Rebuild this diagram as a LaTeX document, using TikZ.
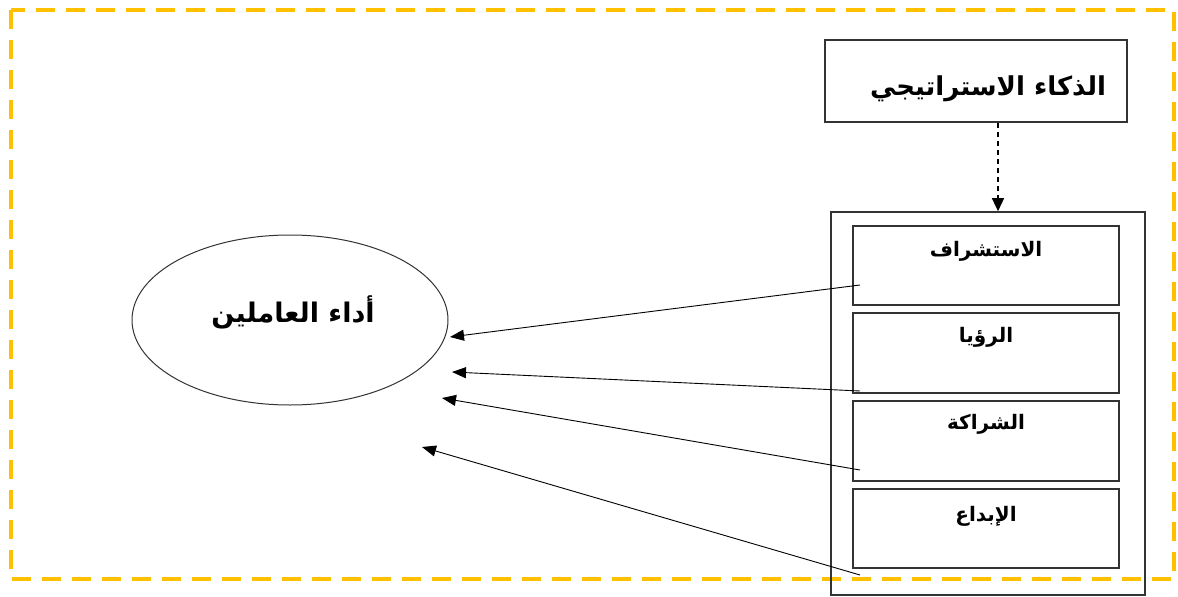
\documentclass[tikz,border=0pt]{standalone}
\usepackage{fontspec}
\newfontfamily\arabicfont[Script=Arabic]{DejaVu Sans}
\TeXXeTstate=1
\usetikzlibrary{arrows.meta,shapes.geometric}
\definecolor{gold}{HTML}{FFC000}
\definecolor{edge}{HTML}{333333}
\tikzset{
  frame/.style={draw=gold, line width=4.5pt, dash pattern=on 19pt off 11pt},
  boxnode/.style={draw=edge, line width=1.6pt, rectangle, inner sep=0pt},
  label/.style={font=\arabicfont\bfseries, inner sep=0pt},
  dasharrow/.style={draw=black, line width=1.3pt, dash pattern=on 5pt off 4pt, -{Triangle[length=13pt,width=12pt]}},
  link/.style={draw=black, line width=0.9pt, -{Triangle[length=14pt,width=11pt]}}
}
\begin{document}
\begin{tikzpicture}[x=1pt,y=-1pt]
\useasboundingbox (0,0) rectangle (1178,597);
\draw[frame] (11,10) rectangle (1174,579);
% top box
\node[boxnode, minimum width=302pt, minimum height=82pt] (top) at (976,81) {};
\node[label, font=\arabicfont\bfseries\fontsize{26}{30}\selectfont] (toptext) at (988,89) {\beginR الذكاء الاستراتيجي\endR};
% outer box
\node[boxnode, minimum width=314pt, minimum height=383pt] (outer) at (988,403.5) {};
% inner boxes
\node[boxnode, minimum width=266pt, minimum height=79pt] (b1) at (986,265.5) {};
\node[boxnode, minimum width=266pt, minimum height=80pt] (b2) at (986,353) {};
\node[boxnode, minimum width=266pt, minimum height=80pt] (b3) at (986,441) {};
\node[boxnode, minimum width=266pt, minimum height=79pt] (b4) at (986,528.5) {};
\node[label, font=\arabicfont\bfseries\fontsize{20}{24}\selectfont] (l1) at (986,251) {\beginR الاستشراف\endR};
\node[label, font=\arabicfont\bfseries\fontsize{20}{24}\selectfont] (l2) at (986,337) {\beginR الرؤيا\endR};
\node[label, font=\arabicfont\bfseries\fontsize{20}{24}\selectfont] (l3) at (986,424) {\beginR الشراكة\endR};
\node[label, font=\arabicfont\bfseries\fontsize{20}{24}\selectfont] (l4) at (986,516) {\beginR الإبداع\endR};
% ellipse
\node[draw=edge, line width=1pt, ellipse, minimum width=316pt, minimum height=170pt, inner sep=0pt] (perf) at (290,320) {};
\node[label, font=\arabicfont\bfseries\fontsize{27}{31}\selectfont] (perftext) at (293,312) {\beginR أداء العاملين\endR};
% dashed arrow
\draw[dasharrow] ([xshift=22pt]top.south) -- ([xshift=10pt]outer.north);
% links
\coordinate (s1) at (860,285);
\coordinate (s2) at (860,391);
\coordinate (s3) at (860,470);
\coordinate (s4) at (860,575);
\coordinate (t1) at (450,337);
\coordinate (t2) at (452,372);
\coordinate (t3) at (442,398);
\coordinate (t4) at (422,447);
\draw[link] (s1) -- (t1);
\draw[link] (s2) -- (t2);
\draw[link] (s3) -- (t3);
\draw[link] (s4) -- (t4);
\end{tikzpicture}
\end{document}
